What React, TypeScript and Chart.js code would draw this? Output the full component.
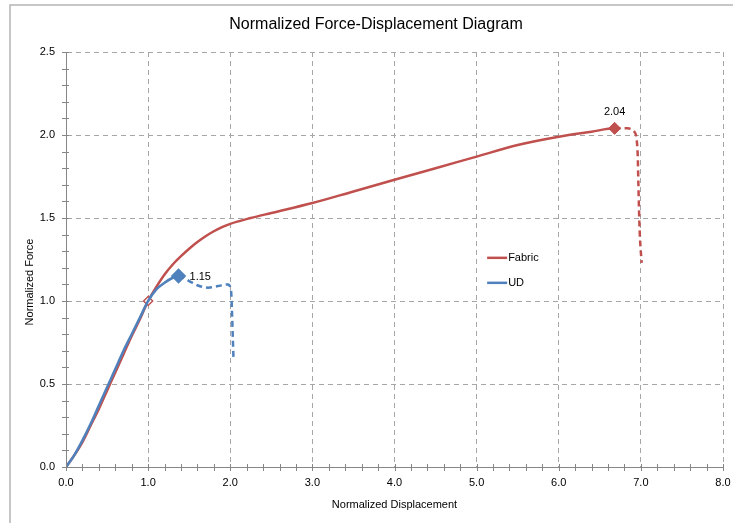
import React, { useEffect, useRef } from "react";
import { Chart, registerables } from "chart.js";

Chart.register(...registerables);

// ---- data ----
const fabricX = [0, 0.1, 0.2, 0.3, 0.4, 0.5, 0.6, 0.7, 0.8, 0.9, 1.0, 1.1, 1.2, 1.3, 1.4, 1.5, 1.6, 1.7, 1.8, 1.9, 2.0, 2.25, 2.5, 3.0, 3.5, 4.0, 4.5, 5.0, 5.5, 6.0, 6.4, 6.68, 6.84, 6.92, 6.96, 6.97, 6.98, 6.99, 7.01];
const fabricY = [0, 0.07, 0.15, 0.25, 0.35, 0.46, 0.57, 0.68, 0.79, 0.89, 1.0, 1.085, 1.16, 1.22, 1.27, 1.315, 1.355, 1.39, 1.42, 1.445, 1.465, 1.50, 1.53, 1.59, 1.66, 1.73, 1.80, 1.87, 1.94, 1.99, 2.02, 2.04, 2.04, 2.02, 1.9, 1.7, 1.5, 1.37, 1.23];
const udX = [0, 0.1, 0.2, 0.3, 0.4, 0.5, 0.6, 0.7, 0.8, 0.9, 1.0, 1.1, 1.2, 1.3, 1.37, 1.5, 1.6, 1.73, 1.85, 1.97, 2.01, 2.02, 2.03, 2.04];
const udY = [0, 0.07, 0.16, 0.26, 0.37, 0.48, 0.59, 0.70, 0.80, 0.90, 1.0, 1.07, 1.11, 1.14, 1.15, 1.12, 1.095, 1.08, 1.09, 1.10, 1.06, 0.95, 0.8, 0.64];
const seriesNames = ["Fabric", "UD"];
const xTicks = [0, 1, 2, 3, 4, 5, 6, 7, 8];
const yTicks = [0, 0.5, 1.0, 1.5, 2.0, 2.5];
const refPoint = { x: 1.0, y: 1.0 };

const RED = "#C0504D";
const BLUE = "#4F81BD";
const FONT = "'Liberation Sans', Arial, sans-serif";

const peakIdx = (ys: number[]) => ys.indexOf(Math.max(...ys));

const customPlugin = {
  id: "custom",
  beforeDraw(chart: any) {
    const ctx = chart.ctx;
    ctx.save();
    ctx.fillStyle = "#fff";
    ctx.fillRect(0, 0, chart.width, chart.height);
    ctx.strokeStyle = "#B4B4B4";
    ctx.lineWidth = 1.5;
    ctx.beginPath();
    ctx.moveTo(10, chart.height);
    ctx.lineTo(10, 5);
    ctx.lineTo(chart.width, 5);
    ctx.stroke();
    ctx.restore();
  },
  afterDraw(chart: any) {
    const ctx = chart.ctx;
    const xs = chart.scales.x;
    const ys = chart.scales.y;
    const area = chart.chartArea;
    ctx.save();
    ctx.strokeStyle = "#868686";
    ctx.lineWidth = 1;
    ctx.beginPath();
    for (let i = 0; i <= 40; i++) {
      const px = Math.round(xs.getPixelForValue(i * 0.2)) + 0.5;
      ctx.moveTo(px, area.bottom - 3);
      ctx.lineTo(px, area.bottom + 4);
    }
    for (let i = 0; i <= 25; i++) {
      const py = Math.round(ys.getPixelForValue(i * 0.1)) + 0.5;
      ctx.moveTo(area.left - 4, py);
      ctx.lineTo(area.left + 3, py);
    }
    ctx.stroke();

    ctx.fillStyle = "#000";
    ctx.font = `16px ${FONT}`;
    ctx.textAlign = "center";
    ctx.textBaseline = "middle";
    ctx.fillText("Normalized Force-Displacement Diagram", 376, 25);

    ctx.font = `11px ${FONT}`;
    ctx.fillText("Normalized Displacement", (area.left + area.right) / 2, 505);
    ctx.save();
    ctx.translate(30, 282);
    ctx.rotate(-Math.PI / 2);
    ctx.fillText("Normalized Force", 0, 0);
    ctx.restore();

    const lx = area.left + 0.641 * (area.right - area.left);
    const ly = area.top + 0.496 * (area.bottom - area.top);
    const cols = [RED, BLUE];
    ctx.font = `11px ${FONT}`;
    ctx.textAlign = "left";
    seriesNames.forEach((n, i) => {
      const y = ly + i * 25;
      ctx.strokeStyle = cols[i];
      ctx.lineWidth = 2.5;
      ctx.beginPath();
      ctx.moveTo(lx, y);
      ctx.lineTo(lx + 20, y);
      ctx.stroke();
      ctx.fillStyle = "#000";
      ctx.fillText(n, lx + 21, y);
    });

    ctx.font = `11px ${FONT}`;
    const fi = peakIdx(fabricY);
    const fx = xs.getPixelForValue(fabricX[fi]);
    const fy = ys.getPixelForValue(fabricY[fi]);
    ctx.textAlign = "center";
    ctx.fillText(fabricY[fi].toFixed(2), fx, fy - 16);
    const ui = peakIdx(udY);
    const ux = xs.getPixelForValue(udX[ui]);
    const uy = ys.getPixelForValue(udY[ui]);
    ctx.textAlign = "left";
    ctx.fillText(udY[ui].toFixed(2), ux + 11, uy + 1);
    ctx.restore();
  },
};

export default function App() {
  const ref = useRef<HTMLCanvasElement>(null);
  useEffect(() => {
    if (!ref.current) return;
    const fPeak = peakIdx(fabricY);
    const uPeak = peakIdx(udY);
    const fRef = fabricX.findIndex((x, i) => x === refPoint.x && fabricY[i] === refPoint.y);
    const chart = new Chart(ref.current, {
      type: "line",
      data: {
        datasets: [
          {
            label: seriesNames[0],
            data: fabricX.map((x, i) => ({ x, y: fabricY[i] })),
            borderColor: RED,
            backgroundColor: RED,
            borderWidth: 2.5,
            cubicInterpolationMode: "monotone",
            pointStyle: "rectRot",
            pointRadius: (c: any) => (c.dataIndex === fPeak ? 6 : c.dataIndex === fRef ? 4.5 : 0),
            pointBackgroundColor: (c: any) => (c.dataIndex === fRef ? "#fff" : RED),
            pointBorderColor: RED,
            pointBorderWidth: (c: any) => (c.dataIndex === fRef ? 1.5 : 1),
            segment: {
              borderDash: (c: any) => (c.p0DataIndex >= fPeak ? [6, 4] : undefined),
            },
            order: 2,
          } as any,
          {
            label: seriesNames[1],
            data: udX.map((x, i) => ({ x, y: udY[i] })),
            borderColor: BLUE,
            backgroundColor: BLUE,
            borderWidth: 2.5,
            cubicInterpolationMode: "monotone",
            pointStyle: "rectRot",
            pointRadius: (c: any) => (c.dataIndex === uPeak ? 6 : 0),
            pointBackgroundColor: BLUE,
            pointBorderColor: BLUE,
            segment: {
              borderDash: (c: any) => (c.p0DataIndex >= uPeak ? [6, 4] : undefined),
            },
            order: 1,
          } as any,
        ],
      },
      options: {
        animation: false,
        responsive: false,
        layout: { padding: { top: 52, right: 10, bottom: 0, left: 0 } },
        plugins: {
          legend: { display: false },
          title: { display: false },
          tooltip: { enabled: false },
        },
        scales: {
          x: {
            type: "linear",
            min: 0,
            max: 8,
            afterFit: (s: any) => {
              s.height = 56;
              s.paddingLeft = 0;
              s.paddingRight = 0;
            },
            afterBuildTicks: (s: any) => { s.ticks = xTicks.map((v) => ({ value: v })); },
            ticks: {
              callback: (v: any) => Number(v).toFixed(1),
              font: { family: FONT, size: 11 },
              color: "#000",
              padding: 9,
              maxRotation: 0,
            },
            grid: { color: "#A6A6A6", drawTicks: false },
            border: { display: true, color: "#868686", width: 1, dash: [5, 4] },
          },
          y: {
            type: "linear",
            min: 0,
            max: 2.5,
            afterFit: (s: any) => {
              s.width = 66;
              s.paddingTop = 0;
              s.paddingBottom = 0;
            },
            afterBuildTicks: (s: any) => { s.ticks = yTicks.map((v) => ({ value: v })); },
            ticks: {
              callback: (v: any) => Number(v).toFixed(1),
              font: { family: FONT, size: 11 },
              color: "#000",
              padding: 11,
            },
            grid: { color: "#A6A6A6", drawTicks: false },
            border: { display: true, color: "#868686", width: 1, dash: [5, 4] },
          },
        },
      } as any,
      plugins: [customPlugin],
    });
    return () => chart.destroy();
  }, []);
  return (
    <div style={{ position: "fixed", left: 0, top: 0, width: 733, height: 523, background: "#fff" }}>
      <canvas ref={ref} width={733} height={523} style={{ display: "block" }} />
    </div>
  );
}
